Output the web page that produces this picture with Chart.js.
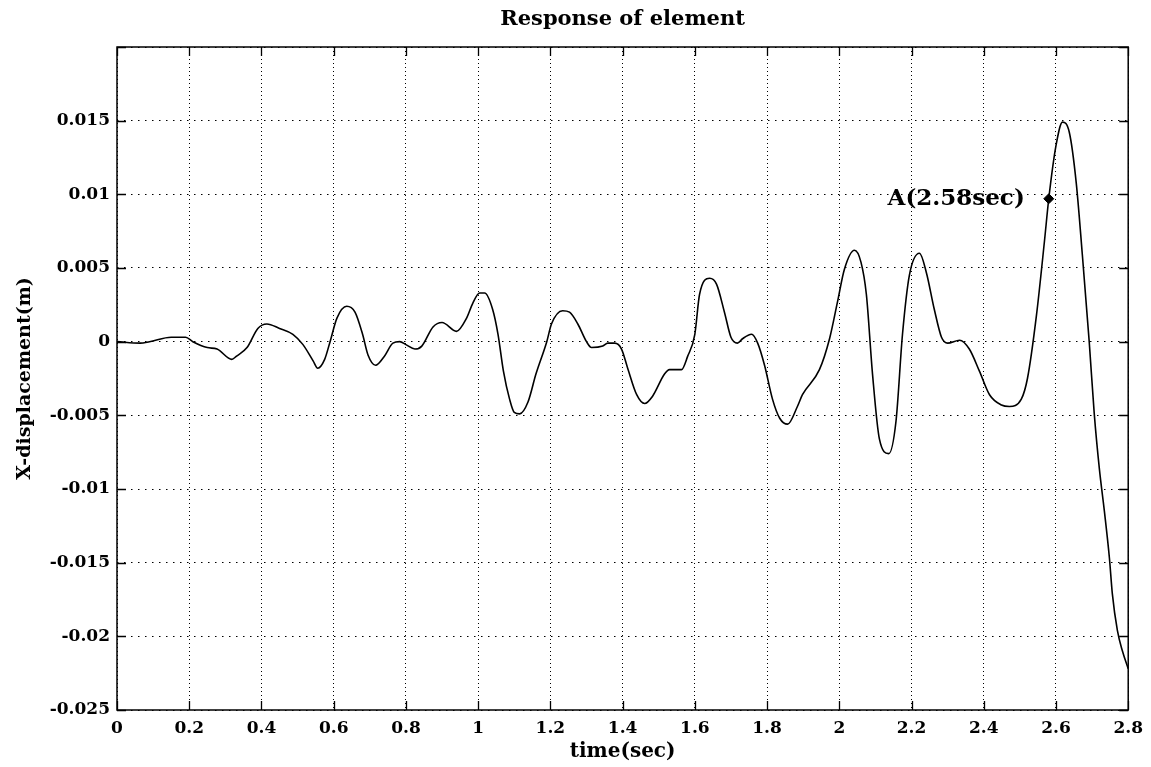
<!DOCTYPE html>
<html>
<head>
<meta charset="utf-8">
<title>Response of element</title>
<script src="https://cdn.jsdelivr.net/npm/chart.js@4"></script>
<style>
  html, body { margin: 0; padding: 0; background: #fff; }
  #wrap { width: 1151px; height: 767px; }
</style>
</head>
<body>
<div id="wrap"><canvas id="responseChart" width="1151" height="767"></canvas></div>
<script>
// datos
const chartTitle = "Response of element";
const xAxisTitle = "time(sec)";
const yAxisTitle = "X-displacement(m)";

const timeSec = [
  0, 0.064, 0.09, 0.15, 0.19, 0.21, 0.25, 0.277, 0.318, 0.33, 0.36, 0.39, 0.415, 0.45, 0.487,
  0.515, 0.543, 0.556, 0.575, 0.59, 0.609, 0.636, 0.659, 0.68, 0.695, 0.716, 0.74, 0.764, 0.783,
  0.8, 0.825, 0.844, 0.875, 0.9, 0.94, 0.968, 0.985, 1.004, 1.018, 1.04, 1.055, 1.07, 1.087,
  1.1, 1.115, 1.138, 1.16, 1.19, 1.203, 1.234, 1.253, 1.276, 1.3, 1.314, 1.345, 1.359, 1.378,
  1.397, 1.414, 1.439, 1.461, 1.483, 1.516, 1.53, 1.563, 1.58, 1.6, 1.613, 1.641, 1.66, 1.682,
  1.7, 1.718, 1.732, 1.757, 1.774, 1.793, 1.815, 1.835, 1.857, 1.884, 1.898, 1.945, 1.973,
  1.995, 2.014, 2.042, 2.06, 2.075, 2.092, 2.111, 2.137, 2.157, 2.175, 2.194, 2.222, 2.241,
  2.263, 2.283, 2.3, 2.333, 2.36, 2.388, 2.416, 2.449, 2.471, 2.504, 2.521, 2.546, 2.568,
  2.58, 2.6, 2.618, 2.637, 2.656, 2.673, 2.692, 2.706, 2.72, 2.734, 2.748, 2.756, 2.77, 2.784, 2.8
];

const xDisplacement = [
  0, -0.0001, 0, 0.0003, 0.0003, 0, -0.0004, -0.0005, -0.0012, -0.001, -0.0004, 0.0009, 0.0012, 0.0009, 0.0005,
  -0.0002, -0.0013, -0.0018, -0.0012, 0, 0.0016, 0.0024, 0.002, 0.0005, -0.0009, -0.0016, -0.001, -0.0001, 0,
  -0.0002, -0.0005, -0.0003, 0.001, 0.0013, 0.0007, 0.0016, 0.0026, 0.0033, 0.0033, 0.0022, 0.0005, -0.002, -0.0039,
  -0.0048, -0.0049, -0.0041, -0.0022, 0, 0.0012, 0.0021, 0.002, 0.0012, 0, -0.0004, -0.0003, -0.0001, -0.0001,
  -0.0005, -0.0018, -0.0036, -0.0042, -0.0037, -0.0022, -0.0019, -0.0019, -0.001, 0.0005, 0.0032, 0.0043, 0.0039, 0.002,
  0.0003, -0.0001, 0.0002, 0.0005, -0.0001, -0.0016, -0.0039, -0.0052, -0.0056, -0.0044, -0.0036, -0.0019, 0.0002,
  0.0027, 0.0049, 0.0062, 0.0054, 0.0032, -0.0022, -0.0066, -0.0076, -0.0054, 0.0005, 0.0045, 0.006, 0.0047,
  0.0022, 0.0003, -0.0001, 0.0001, -0.0005, -0.002, -0.0036, -0.0043, -0.0044, -0.0039, -0.0025, 0.0018, 0.0068,
  0.0097, 0.0133, 0.0149, 0.0142, 0.0108, 0.0059, 0, -0.0049, -0.0086, -0.0115, -0.0147, -0.0171, -0.0196, -0.021, -0.0222
];

// punto A marcado en la curva
const markerTime = [2.58];
const markerValue = [0.0097];
const markerLabel = "A(2.58sec)";

const xTicks = [0, 0.2, 0.4, 0.6, 0.8, 1, 1.2, 1.4, 1.6, 1.8, 2, 2.2, 2.4, 2.6, 2.8];
const xTickLabels = ["0", "0.2", "0.4", "0.6", "0.8", "1", "1.2", "1.4", "1.6", "1.8", "2", "2.2", "2.4", "2.6", "2.8"];
const yTicks = [-0.025, -0.02, -0.015, -0.01, -0.005, 0, 0.005, 0.01, 0.015, 0.02];
const yTickLabels = ["-0.025", "-0.02", "-0.015", "-0.01", "-0.005", "0", "0.005", "0.01", "0.015", ""];

const serif = "'DejaVu Serif', 'Liberation Serif', serif";

// marco completo, ticks hacia adentro, titulo y etiqueta del punto A
const framePlugin = {
  id: "frame",
  afterDraw(chart) {
    const { ctx, chartArea: a, scales } = chart;
    const len = 9;
    ctx.save();
    ctx.strokeStyle = "#000";
    ctx.lineWidth = 1.5;
    ctx.strokeRect(a.left, a.top, a.right - a.left, a.bottom - a.top);
    ctx.beginPath();
    scales.x.ticks.forEach((t) => {
      const px = Math.round(scales.x.getPixelForValue(t.value)) + 0.5;
      ctx.moveTo(px, a.bottom); ctx.lineTo(px, a.bottom - len);
      ctx.moveTo(px, a.top); ctx.lineTo(px, a.top + len);
    });
    scales.y.ticks.forEach((t) => {
      const py = Math.round(scales.y.getPixelForValue(t.value)) + 0.5;
      ctx.moveTo(a.left, py); ctx.lineTo(a.left + len, py);
      ctx.moveTo(a.right, py); ctx.lineTo(a.right - len, py);
    });
    ctx.lineWidth = 1.3;
    ctx.stroke();

    ctx.fillStyle = "#000";
    ctx.font = "bold 21px " + serif;
    ctx.textAlign = "center";
    ctx.textBaseline = "middle";
    ctx.fillText(chartTitle, (a.left + a.right) / 2, 20);

    const mx = scales.x.getPixelForValue(markerTime[0]);
    const my = scales.y.getPixelForValue(markerValue[0]);
    ctx.font = "bold 23px " + serif;
    ctx.textAlign = "right";
    ctx.fillText(markerLabel, mx - 24, my);
    ctx.restore();
  },
};

const ctx = document.getElementById("responseChart").getContext("2d");
new Chart(ctx, {
  type: "line",
  data: {
    datasets: [
      {
        label: "Respuesta",
        data: timeSec.map((t, i) => ({ x: t, y: xDisplacement[i] })),
        borderColor: "#000",
        borderWidth: 1.6,
        pointRadius: 0,
        cubicInterpolationMode: "monotone",
        fill: false,
      },
      {
        label: "Punto A",
        data: markerTime.map((t, i) => ({ x: t, y: markerValue[i] })),
        showLine: false,
        pointStyle: "rectRot",
        pointRadius: 5,
        backgroundColor: "#000",
        borderColor: "#000",
      },
    ],
  },
  options: {
    responsive: false,
    animation: false,
    layout: { padding: { top: 47, right: 22, left: 0, bottom: 0 } },
    plugins: {
      legend: { display: false },
      tooltip: { enabled: false },
      title: { display: false },
    },
    scales: {
      x: {
        type: "linear",
        min: 0,
        max: 2.8,
        afterBuildTicks: (scale) => { scale.ticks = xTicks.map((v) => ({ value: v })); },
        afterFit: (scale) => { scale.height = 57; },
        ticks: {
          autoSkip: false,
          maxRotation: 0,
          padding: 8,
          color: "#000",
          font: { family: serif, size: 17, weight: "bold" },
          callback: (v, i) => xTickLabels[i],
        },
        grid: { color: "#000", lineWidth: 1, drawTicks: false },
        border: { display: false, dash: [1, 3] },
        title: {
          display: true,
          text: xAxisTitle,
          color: "#000",
          font: { family: serif, size: 20, weight: "bold" },
          padding: { top: 0, bottom: 3 },
        },
      },
      y: {
        type: "linear",
        min: -0.025,
        max: 0.02,
        afterBuildTicks: (scale) => { scale.ticks = yTicks.map((v) => ({ value: v })); },
        afterFit: (scale) => { scale.width = 117; },
        ticks: {
          autoSkip: false,
          padding: 7,
          color: "#000",
          font: { family: serif, size: 17, weight: "bold" },
          callback: (v, i) => yTickLabels[i],
        },
        grid: { color: "#000", lineWidth: 1, drawTicks: false },
        border: { display: false, dash: [1.5, 5.5] },
        title: {
          display: true,
          text: yAxisTitle,
          color: "#000",
          font: { family: serif, size: 19, weight: "bold" },
          padding: { top: 14, bottom: 0 },
        },
      },
    },
  },
  plugins: [framePlugin],
});
</script>
</body>
</html>
